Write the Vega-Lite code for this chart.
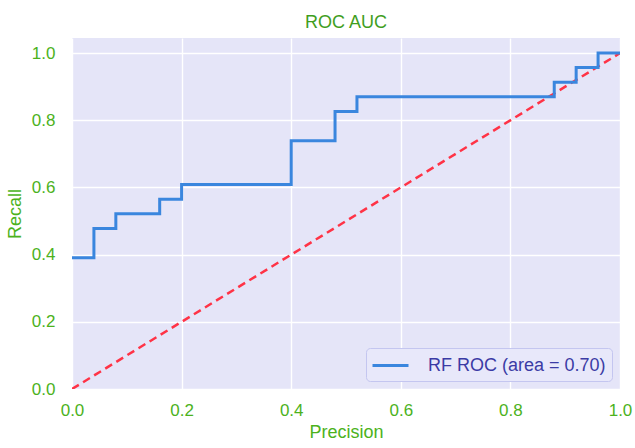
{
  "$schema": "https://vega.github.io/schema/vega-lite/v6.json",
  "autosize": "none",
  "width": 548,
  "height": 351,
  "padding": {"left": 72, "top": 38, "right": 15, "bottom": 59},
  "background": "white",
  "config": {
    "font": "Liberation Sans",
    "view": {"fill": "#E5E5F8", "stroke": null},
    "axis": {
      "domain": false, "ticks": false, "gridColor": "white", "gridWidth": 1.4,
      "labelColor": "#4CB21C", "titleColor": "#4CB21C", "labelFontSize": 17, "titleFontSize": 18,
      "titleFontWeight": "normal", "labelFont": "Liberation Sans", "titleFont": "Liberation Sans",
      "labelFlush": false, "labelOverlap": false
    }
  },
  "title": {"text": "ROC AUC", "color": "#3F9E1E", "fontSize": 18, "fontWeight": "normal", "offset": 6, "font": "Liberation Sans"},
  "datasets": {
    "roc": [
      {"fpr": 0.0, "tpr": 0.391, "s": "RF ROC (area = 0.70)"},
      {"fpr": 0.04, "tpr": 0.478, "s": "RF ROC (area = 0.70)"},
      {"fpr": 0.08, "tpr": 0.522, "s": "RF ROC (area = 0.70)"},
      {"fpr": 0.16, "tpr": 0.565, "s": "RF ROC (area = 0.70)"},
      {"fpr": 0.2, "tpr": 0.609, "s": "RF ROC (area = 0.70)"},
      {"fpr": 0.4, "tpr": 0.739, "s": "RF ROC (area = 0.70)"},
      {"fpr": 0.48, "tpr": 0.826, "s": "RF ROC (area = 0.70)"},
      {"fpr": 0.52, "tpr": 0.870, "s": "RF ROC (area = 0.70)"},
      {"fpr": 0.88, "tpr": 0.913, "s": "RF ROC (area = 0.70)"},
      {"fpr": 0.92, "tpr": 0.957, "s": "RF ROC (area = 0.70)"},
      {"fpr": 0.96, "tpr": 1.0, "s": "RF ROC (area = 0.70)"},
      {"fpr": 1.0, "tpr": 1.0, "s": "RF ROC (area = 0.70)"}
    ],
    "diag": [
      {"fpr": 0, "tpr": 0},
      {"fpr": 1, "tpr": 1}
    ]
  },
  "layer": [
    {
      "data": {"name": "diag"},
      "mark": {"type": "line", "color": "#FF3346", "strokeDash": [8, 5], "strokeWidth": 2.5, "clip": true},
      "encoding": {
        "x": {"field": "fpr", "type": "quantitative", "scale": {"domain": [0, 1], "nice": false, "zero": false},
              "axis": {"title": "Precision", "values": [0, 0.2, 0.4, 0.6, 0.8, 1.0], "format": ".1f", "labelPadding": 13, "titlePadding": 5}},
        "y": {"field": "tpr", "type": "quantitative", "scale": {"domain": [0, 1.045], "nice": false, "zero": false},
              "axis": {"title": "Recall", "values": [0, 0.2, 0.4, 0.6, 0.8, 1.0], "format": ".1f", "labelPadding": 17, "titlePadding": 7}}
      }
    },
    {
      "data": {"name": "roc"},
      "mark": {"type": "line", "interpolate": "step-after", "strokeWidth": 3, "clip": true},
      "encoding": {
        "x": {"field": "fpr", "type": "quantitative"},
        "y": {"field": "tpr", "type": "quantitative"},
        "color": {
          "field": "s", "type": "nominal",
          "scale": {"range": ["#3A86DE"]},
          "legend": {
            "title": null, "orient": "bottom-right", "symbolType": "M-1.8,0H1.8", "symbolStrokeWidth": 3,
            "symbolSize": 400, "symbolOffset": 7, "labelFontSize": 18, "labelColor": "#3B3BA5", "labelFont": "Liberation Sans",
            "labelLimit": 400,
            "fillColor": "#E8E8FA", "strokeColor": "#C4C6F0", "padding": 6, "cornerRadius": 4,
            "offset": 8, "labelOffset": 26
          }
        }
      }
    }
  ]
}
